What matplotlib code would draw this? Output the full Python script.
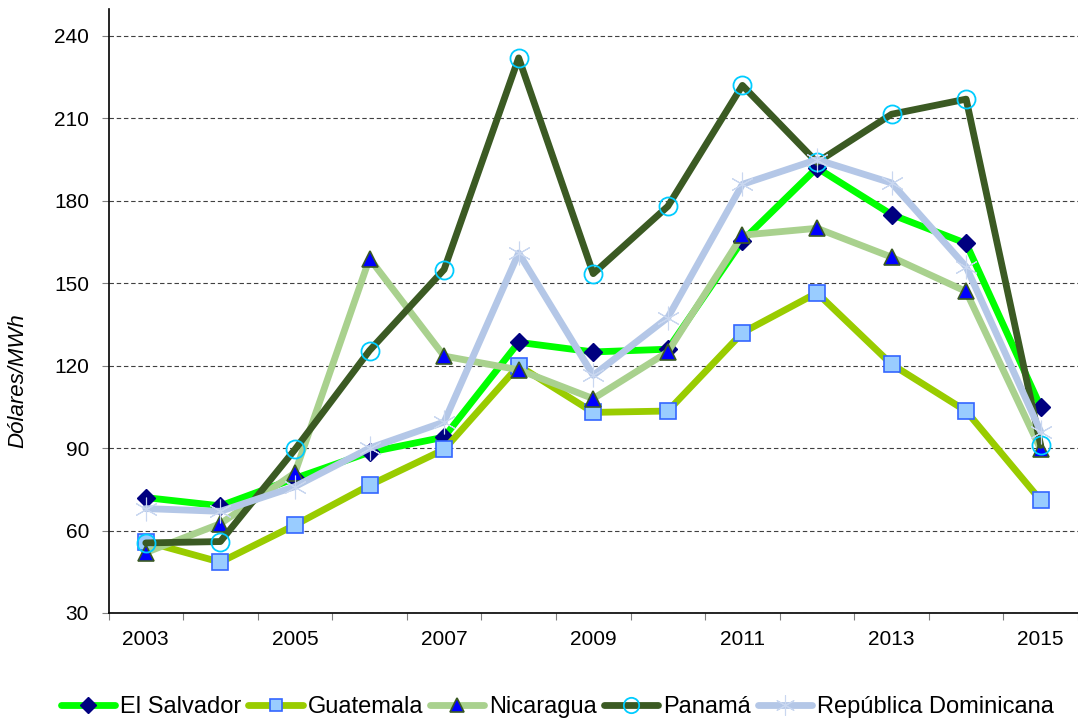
import numpy as np
import matplotlib
matplotlib.use("Agg")
import matplotlib.pyplot as plt
from matplotlib.lines import Line2D

plt.rcParams["font.family"] = ["Liberation Sans", "DejaVu Sans"]

# ---------------- datos ----------------
years = list(range(2003, 2016))
el_salvador = [72, 69, 79, 88.5, 94, 128.5, 125, 126, 165.5, 192, 175, 164.5, 105]
guatemala = [56, 48.5, 62, 76.5, 89.5, 120, 103, 103.5, 132, 146.5, 120.5, 103.5, 71]
nicaragua = [52, 62.5, 81, 159, 123.5, 118.5, 108, 125, 167.5, 170, 159.5, 147, 89.5]
panama = [55.5, 56, 89.5, 125.5, 155, 232, 153.5, 178, 222, 194, 211.5, 217, 91]
rep_dom = [68, 67, 76, 90, 99.5, 161, 116.5, 137.5, 186, 195, 186.5, 156, 96]
series_names = ["El Salvador", "Guatemala", "Nicaragua", "Panamá", "República Dominicana"]
y_ticks = [30, 60, 90, 120, 150, 180, 210, 240]
x_labels = ["2003", "2005", "2007", "2009", "2011", "2013", "2015"]

# estilos por serie
styles = [
    dict(color="#00FF00", marker="D", ms=9.5, mfc="#000080", mec="#000080", mew=1),
    dict(color="#99CC00", marker="s", ms=11, mfc="#99CCFF", mec="#3366FF", mew=1.2),
    dict(color="#A9D18E", marker="^", ms=12, mfc="#0000FF", mec="#3B5A23", mew=1.2),
    dict(color="#3B5A23", marker="o", ms=13, mfc="none", mec="#00CCFF", mew=1.3),
    dict(color="#B4C7E7", marker=(6, 2, 0), ms=17, mfc="none", mec="#C9D7F0", mew=0.8),
]
data = [el_salvador, guatemala, nicaragua, panama, rep_dom]

fig = plt.figure(figsize=(10.78, 7.24), dpi=100)
ax = fig.add_axes([108.5 / 1078, (724 - 613) / 724, 1 - 108.5 / 1078, (613 - 9) / 724])

x = np.arange(len(years))
handles = []
for name, vals, st in zip(series_names, data, styles):
    ax.plot(x, vals, lw=4.9, solid_joinstyle="round", solid_capstyle="round", **st)
    leg_st = dict(st)
    leg_st["ms"] = st["ms"] * 0.85
    handles.append(Line2D([0], [0], lw=4.9, solid_capstyle="round", **leg_st))

ax.set_xlim(-0.5, 12.43)
ax.set_ylim(30, 249.8)
ax.set_yticks(y_ticks)
ax.set_yticklabels([str(v) for v in y_ticks])

# ticks del eje x en los limites de categoria, etiquetas centradas
ax.set_xticks(np.arange(-0.5, 13, 1))
ax.set_xticklabels([])
ax.set_xticks(np.arange(0, 13, 2), minor=True)
ax.set_xticklabels(x_labels, minor=True)
ax.tick_params(axis="x", which="major", length=5, color="#808080", direction="out")
ax.tick_params(axis="x", which="minor", length=0, pad=12, labelsize=15)
ax.tick_params(axis="y", length=5, color="#808080", direction="out", pad=9, labelsize=15)

ax.yaxis.grid(True, color="#404040", linestyle=(0, (4, 2.5)), linewidth=0.8)
ax.set_axisbelow(True)
for s in ["top", "right"]:
    ax.spines[s].set_visible(False)
ax.spines["left"].set_linewidth(1.2)
ax.spines["bottom"].set_linewidth(1.2)

fig.text(18 / 1078, 1 - 381 / 724, "Dólares/MWh", rotation=90, style="italic",
         fontsize=16, ha="center", va="center")

fig.legend(handles, series_names, loc="center", bbox_to_anchor=(0.517, 1 - 707 / 724),
           ncol=5, frameon=False, fontsize=17, handlelength=2.3, handletextpad=0.2,
           columnspacing=0.3, borderaxespad=0)

fig.savefig("out.png", dpi=100)
